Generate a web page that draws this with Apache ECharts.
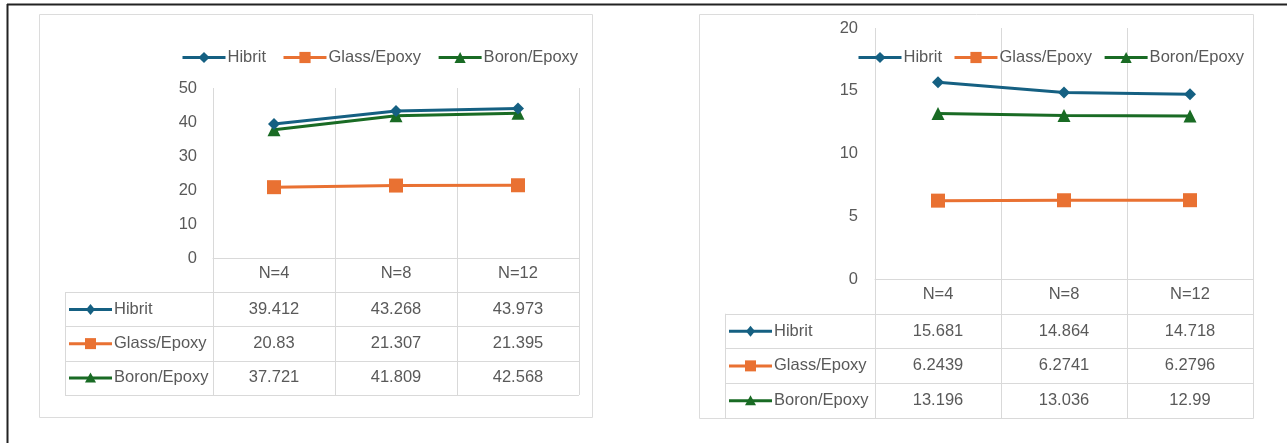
<!DOCTYPE html>
<html>
<head>
<meta charset="utf-8">
<script src="https://cdn.jsdelivr.net/npm/echarts@6/dist/echarts.min.js"></script>
<style>
  html, body { margin: 0; padding: 0; background: #fff; }
  #c { width: 1287px; height: 443px; }
</style>
</head>
<body>
<div id="c"></div>
<script>
// ---- data ----
const categories = ['N=4', 'N=8', 'N=12'];
const seriesNames = ['Hibrit', 'Glass/Epoxy', 'Boron/Epoxy'];

// left chart
const leftHibrit = [39.412, 43.268, 43.973];
const leftGlass = [20.83, 21.307, 21.395];
const leftBoron = [37.721, 41.809, 42.568];
const leftYTicks = [0, 10, 20, 30, 40, 50];

// right chart
const rightHibrit = [15.681, 14.864, 14.718];
const rightGlass = [6.2439, 6.2741, 6.2796];
const rightBoron = [13.196, 13.036, 12.99];
const rightYTicks = [0, 5, 10, 15, 20];

// ---- styling ----
const FONT = "'Liberation Sans', Arial, sans-serif";
const FONT_SIZE = 16.5;
const TEXT = '#595959';
const RULE = '#d9d9d9';
const COLORS = ['#156082', '#E97132', '#196B24'];
const SYMBOLS = ['diamond', 'rect', 'triangle'];
const SYMBOL_SIZES = [12, 14, 13];

const layouts = [
  { panel: [39.5, 14.5, 553, 403], plot: { left: 213, top: 88, width: 366, height: 170 },
    tableHeight: 137, hdrLeft: 65, legend: { left: 176, top: 44, gap: 16 }, yMargin: 16 },
  { panel: [699.5, 14.5, 554, 404], plot: { left: 875, top: 28, width: 378, height: 251 },
    tableHeight: 139, hdrLeft: 725, legend: { left: 852, top: 44, gap: 11 }, yMargin: 17 }
];

const chartData = [
  { values: [leftHibrit, leftGlass, leftBoron], ticks: leftYTicks },
  { values: [rightHibrit, rightGlass, rightBoron], ticks: rightYTicks }
];

// small marker drawn on the key line of a table row header
function markerShape(kind, cx, cy, color) {
  if (kind === 'rect') {
    return { type: 'rect', shape: { x: cx - 5.5, y: cy - 5.5, width: 11, height: 11 }, style: { fill: color } };
  }
  const pts = kind === 'diamond'
    ? [[cx, cy - 5.5], [cx + 4.5, cy], [cx, cy + 5.5], [cx - 4.5, cy]]
    : [[cx, cy - 5.5], [cx + 5.5, cy + 4.5], [cx - 5.5, cy + 4.5]];
  return { type: 'polygon', shape: { points: pts }, style: { fill: color } };
}

const option = {
  animation: false,
  textStyle: { fontFamily: FONT, color: TEXT },
  grid: [], xAxis: [], yAxis: [], series: [], legend: [], graphic: []
};

// page frame
option.graphic.push(
  { type: 'line', z: 100, shape: { x1: 7, y1: 4.5, x2: 1287, y2: 4.5 }, style: { stroke: '#222', lineWidth: 2 } },
  { type: 'line', z: 100, shape: { x1: 7.5, y1: 4, x2: 7.5, y2: 443 }, style: { stroke: '#222', lineWidth: 2 } }
);

layouts.forEach((L, ci) => {
  const D = chartData[ci];
  const g0 = option.grid.length;           // plot grid index
  const rowH = L.tableHeight / 4;
  const plotBottom = L.plot.top + L.plot.height;

  option.graphic.push({
    type: 'rect', z: -10,
    shape: { x: L.panel[0], y: L.panel[1], width: L.panel[2], height: L.panel[3] },
    style: { fill: '#fff', stroke: '#dcdcdc', lineWidth: 1 }
  });

  // plot area
  option.grid.push({ left: L.plot.left, top: L.plot.top, width: L.plot.width, height: L.plot.height });
  // value table (header row + three series rows)
  option.grid.push({ left: L.plot.left, top: plotBottom, width: L.plot.width, height: L.tableHeight });
  // row-header column of the table
  option.grid.push({ left: L.hdrLeft, top: plotBottom + rowH, width: L.plot.left - L.hdrLeft, height: rowH * 3 });

  const split = { show: true, lineStyle: { color: RULE, width: 1 } };

  option.xAxis.push(
    { gridIndex: g0, type: 'category', data: categories, boundaryGap: true,
      axisLine: { show: true, lineStyle: { color: RULE, width: 1 } }, axisTick: { show: false },
      axisLabel: { color: TEXT, fontSize: FONT_SIZE, fontFamily: FONT, margin: 7 }, splitLine: split },
    { gridIndex: g0 + 1, type: 'category', data: categories, boundaryGap: true,
      axisLine: { show: false }, axisTick: { show: false }, axisLabel: { show: false }, splitLine: split },
    { gridIndex: g0 + 2, type: 'category', data: [''], boundaryGap: true,
      axisLine: { show: false }, axisTick: { show: false }, axisLabel: { show: false }, splitLine: split }
  );

  const ticks = D.ticks;
  option.yAxis.push(
    { gridIndex: g0, type: 'value', min: ticks[0], max: ticks[ticks.length - 1], interval: ticks[1] - ticks[0],
      axisLine: { show: false }, axisTick: { show: false }, splitLine: { show: false },
      axisLabel: { color: TEXT, fontSize: FONT_SIZE, fontFamily: FONT, margin: L.yMargin } },
    { gridIndex: g0 + 1, type: 'category', inverse: true, data: [''].concat(seriesNames), boundaryGap: true,
      axisLine: { show: false }, axisTick: { show: false }, axisLabel: { show: false }, splitLine: split },
    { gridIndex: g0 + 2, type: 'category', inverse: true, data: seriesNames, boundaryGap: true,
      axisLine: { show: false }, axisTick: { show: false }, axisLabel: { show: false }, splitLine: split }
  );

  // line series
  seriesNames.forEach((name, si) => {
    option.series.push({
      type: 'line', name: name, xAxisIndex: g0, yAxisIndex: g0,
      data: D.values[si],
      symbol: SYMBOLS[si], symbolSize: SYMBOL_SIZES[si], showSymbol: true,
      lineStyle: { color: COLORS[si], width: 3 },
      itemStyle: { color: COLORS[si], borderWidth: 0 },
      z: name === 'Hibrit' ? 5 : 4
    });
  });

  // legend
  option.legend.push({
    left: L.legend.left, top: L.legend.top, itemWidth: 43, itemHeight: 14, itemGap: L.legend.gap,
    data: seriesNames.slice(),
    lineStyle: { width: 3 },
    textStyle: { color: TEXT, fontSize: FONT_SIZE, fontFamily: FONT, padding: [0, 0, 0, -3] },
    selectedMode: false
  });

  // table cells: values written in each series row
  const cellData = [];
  seriesNames.forEach((name, si) => {
    D.values[si].forEach((v, k) => cellData.push([k, si + 1, v]));
  });
  option.series.push({
    type: 'custom', xAxisIndex: g0 + 1, yAxisIndex: g0 + 1, data: cellData, silent: true,
    renderItem: (params, api) => {
      const p = api.coord([api.value(0), api.value(1)]);
      return {
        type: 'text', x: p[0], y: p[1],
        style: { text: String(cellData[params.dataIndex][2]), fill: TEXT, font: FONT_SIZE + 'px ' + FONT,
                 align: 'center', verticalAlign: 'middle' }
      };
    }
  });

  // table row headers: legend key + series name
  const hdrData = seriesNames.map((n, si) => [0, si]);
  option.series.push({
    type: 'custom', xAxisIndex: g0 + 2, yAxisIndex: g0 + 2, data: hdrData, silent: true,
    renderItem: (params, api) => {
      const si = params.dataIndex;
      const p = api.coord([0, si]);
      const w = api.size([1, 0])[0];
      const x0 = p[0] - w / 2 + 4;
      const cy = p[1];
      return {
        type: 'group',
        children: [
          { type: 'line', shape: { x1: x0, y1: cy, x2: x0 + 43, y2: cy }, style: { stroke: COLORS[si], lineWidth: 3 } },
          markerShape(SYMBOLS[si], x0 + 21.5, cy, COLORS[si]),
          { type: 'text', x: x0 + 45, y: cy,
            style: { text: seriesNames[si], fill: TEXT, font: FONT_SIZE + 'px ' + FONT, align: 'left', verticalAlign: 'middle' } }
        ]
      };
    }
  });
});

const chart = echarts.init(document.getElementById('c'), null, { renderer: 'canvas' });
chart.setOption(option);
</script>
</body>
</html>
